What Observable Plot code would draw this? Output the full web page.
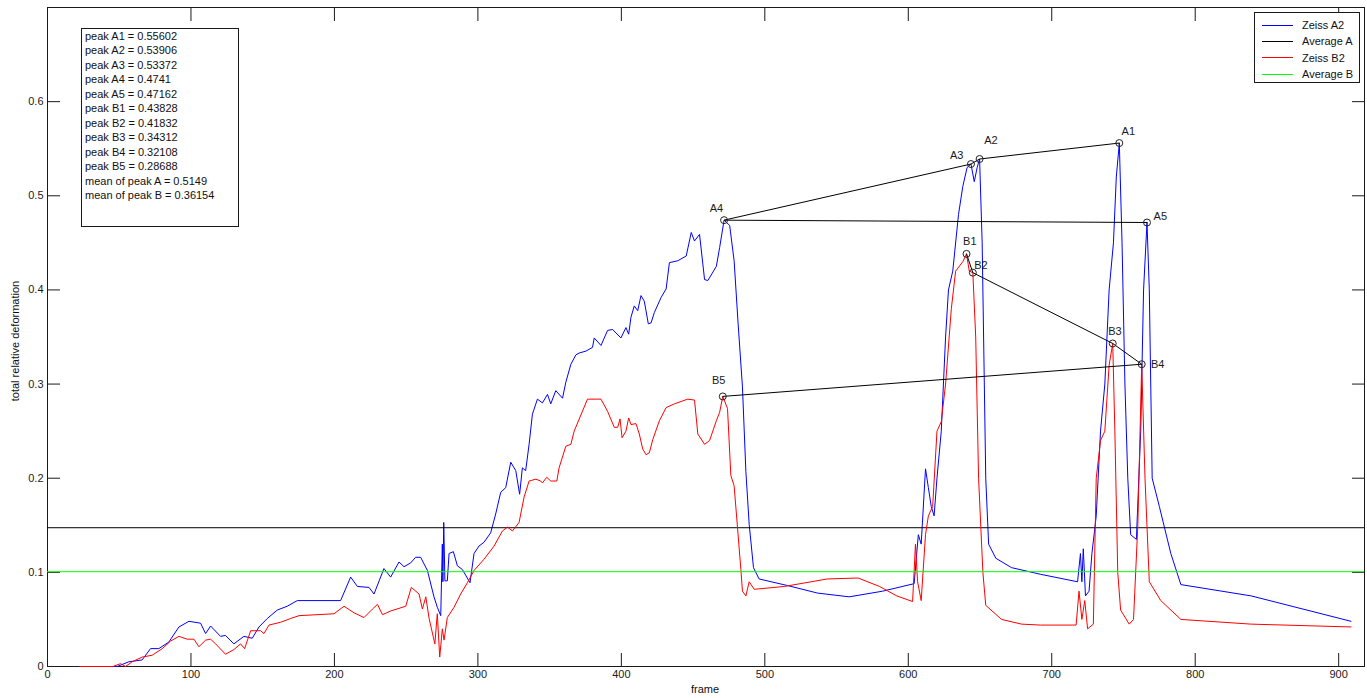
<!DOCTYPE html>
<html><head><meta charset="utf-8">
<script src="https://cdn.jsdelivr.net/npm/d3@7"></script>
<script src="https://cdn.jsdelivr.net/npm/@observablehq/plot@0.6"></script>
<style>
body{margin:0;background:#fff;font-family:"Liberation Sans",Arial,sans-serif;}
#wrap{position:relative;width:1367px;height:698px;overflow:hidden;}
.box{position:absolute;background:#fff;border:1px solid #1a1a1a;font-size:11px;color:#111;box-sizing:border-box;}
#info{left:81px;top:28px;width:158px;height:199px;padding:0 0 0 3px;line-height:14.45px;}
#legend{left:1254px;top:12px;width:106px;height:71px;padding-top:4px;}
.lrow{height:16.3px;display:flex;align-items:center;}
.lrow span.sw{display:inline-block;width:31px;height:0;border-top:1px solid;margin:0 9px 0 7px;}
.axlab{position:absolute;font-size:11px;color:#111;white-space:nowrap;}
</style></head><body><div id="wrap"></div><script>
// ---- data ----
const zeissA2 = [[22,0],[48.6,0],[56.7,0.005],[66,0.007],[71.8,0.019],[77.6,0.019],[84.6,0.026],[91.6,0.042],[98.6,0.048],[106.7,0.046],[110.2,0.035],[113.7,0.043],[120.6,0.032],[124.1,0.033],[129.9,0.024],[136.9,0.032],[142.7,0.030],[147.4,0.042],[153.2,0.051],[160.2,0.060],[167.1,0.064],[174.1,0.070],[204.3,0.070],[211.3,0.095],[216,0.085],[224.1,0.084],[227.6,0.077],[234.5,0.104],[239.2,0.095],[245,0.111],[248.5,0.106],[253.1,0.110],[256.6,0.116],[260.1,0.116],[264.8,0.102],[269.4,0.074],[271.7,0.063],[274.1,0.054],[275.2,0.130],[275.6,0.09],[276.2,0.153],[277,0.091],[278.7,0.091],[279.9,0.120],[282.9,0.122],[285.7,0.107],[289.2,0.103],[294.5,0.089],[297.3,0.120],[300.8,0.128],[304.3,0.132],[308.9,0.142],[312.4,0.162],[315.9,0.185],[319.4,0.190],[322.9,0.217],[326.4,0.208],[329.1,0.183],[331,0.211],[333.3,0.208],[335.7,0.236],[338,0.268],[341.5,0.284],[345,0.280],[348.5,0.289],[350.8,0.279],[354.3,0.293],[359,0.285],[361.3,0.302],[364.8,0.321],[368.3,0.331],[370.6,0.333],[375.3,0.335],[379.9,0.339],[381.1,0.349],[385.8,0.341],[390.4,0.357],[393.9,0.358],[399.7,0.349],[403.2,0.360],[405.1,0.353],[406.7,0.371],[409,0.383],[411.4,0.378],[413.7,0.394],[416,0.388],[418.8,0.364],[420.7,0.365],[423,0.376],[427.7,0.392],[431.2,0.401],[433.5,0.429],[439.3,0.431],[445.2,0.436],[448.7,0.461],[451,0.452],[454.5,0.459],[458,0.411],[460.3,0.410],[466.2,0.425],[468.5,0.445],[471.6,0.4741],[475.5,0.4685],[478.6,0.431],[481.4,0.364],[484.4,0.297],[486.8,0.207],[489.1,0.151],[492.1,0.105],[496,0.093],[515.8,0.086],[536.7,0.078],[558.8,0.074],[582.1,0.080],[604.1,0.088],[607,0.14],[609,0.13],[612,0.21],[614,0.19],[616,0.17],[618,0.16],[620,0.2],[623,0.25],[626,0.35],[628,0.40],[631,0.42],[635,0.48],[638,0.51],[641,0.53],[643.7,0.53372],[646,0.515],[648,0.53],[649.7,0.53906],[651.5,0.45],[653,0.3],[654,0.2],[656,0.13],[661,0.115],[672,0.105],[692,0.098],[718,0.09],[720,0.12],[721,0.09],[722,0.125],[723.5,0.075],[726,0.08],[728,0.12],[731,0.16],[734,0.25],[737,0.3],[740,0.4],[743,0.45],[745,0.52],[747.1,0.55602],[749,0.45],[751,0.3],[753,0.2],[755,0.14],[759,0.135],[762,0.25],[764,0.4],[766.4,0.47162],[768,0.4],[770,0.2],[775,0.17],[783,0.12],[790,0.087],[839,0.075],[908.6,0.048]];

const zeissB2 = [[22.5,0],[45.5,0],[50.9,0.003],[54.4,0],[59,0.005],[66,0.010],[73,0.012],[80,0.019],[85.8,0.027],[91.6,0.032],[97.4,0.029],[102.1,0.029],[105.5,0.021],[110.2,0.028],[113.7,0.029],[117.2,0.024],[124.1,0.013],[129.9,0.018],[134.6,0.024],[137.4,0.019],[141.6,0.038],[148.5,0.038],[150.9,0.035],[154.4,0.044],[162.5,0.047],[169.5,0.051],[175.3,0.054],[199.7,0.056],[206.7,0.064],[213.7,0.057],[220.6,0.052],[226.5,0.061],[230,0.066],[233.5,0.055],[239.2,0.059],[249.7,0.064],[253.6,0.084],[259,0.077],[261.3,0.061],[263.7,0.074],[266,0.051],[270,0.024],[271.7,0.056],[273.4,0.010],[275.2,0.040],[276.4,0.028],[278.7,0.052],[283.4,0.063],[288,0.077],[292.7,0.089],[297.3,0.102],[304.3,0.114],[311.3,0.128],[317.1,0.144],[320.6,0.148],[324.1,0.144],[328.7,0.153],[332.2,0.180],[335.7,0.197],[340.4,0.199],[343.8,0.197],[345,0.195],[348,0.201],[350.8,0.197],[355,0.197],[356.6,0.211],[361.3,0.234],[364.8,0.236],[367.1,0.250],[376.4,0.284],[385.8,0.284],[390.4,0.271],[395.1,0.254],[397.4,0.254],[399.1,0.263],[400.5,0.243],[403.2,0.250],[405.1,0.264],[406.7,0.257],[410.2,0.258],[412.5,0.247],[414.9,0.231],[417.2,0.225],[419.5,0.227],[421.9,0.241],[426.5,0.261],[431.2,0.275],[437,0.279],[446.3,0.284],[451,0.283],[453.3,0.247],[458,0.236],[461.5,0.240],[466.2,0.261],[468.5,0.270],[470.7,0.28688],[474,0.274],[476.3,0.203],[478.6,0.192],[481,0.147],[483.3,0.103],[484.4,0.080],[486.8,0.075],[489.1,0.090],[492.6,0.082],[513.5,0.085],[543.7,0.093],[565,0.094],[580,0.085],[592,0.075],[603,0.069],[605,0.13],[606.5,0.09],[609,0.07],[612,0.14],[614,0.16],[617,0.17],[620,0.25],[623,0.26],[626,0.3],[630,0.38],[633,0.42],[638,0.43],[640.6,0.43828],[642.5,0.42],[645,0.41832],[647,0.35],[649,0.2],[652,0.1],[654,0.065],[665,0.05],[679,0.045],[692,0.044],[717,0.044],[719,0.08],[721,0.05],[723,0.07],[725,0.04],[729,0.045],[731,0.2],[734,0.24],[737,0.25],[740,0.32],[742.5,0.34312],[744,0.25],[746,0.1],[748,0.06],[754,0.045],[757,0.05],[760,0.15],[762.7,0.32108],[765,0.2],[768,0.09],[776,0.07],[790,0.05],[839,0.045],[908.6,0.042]];

const averageA = 0.1474;
const averageB = 0.1007;

const peakNamesA = ["A1","A2","A3","A4","A5"];
const peakFramesA = [747.1, 649.7, 643.7, 471.6, 766.4];
const peakValuesA = [0.55602, 0.53906, 0.53372, 0.4741, 0.47162];
const peakLabelXA = [753.4, 657.6, 633.7, 466.3, 775.7];
const peakLabelYA = [0.5684, 0.5585, 0.5430, 0.4864, 0.4783];

const peakNamesB = ["B1","B2","B3","B4","B5"];
const peakFramesB = [640.6, 645.0, 742.5, 762.7, 470.7];
const peakValuesB = [0.43828, 0.41832, 0.34312, 0.32108, 0.28688];
const peakLabelXB = [642.9, 650.6, 744.1, 773.8, 467.9];
const peakLabelYB = [0.4517, 0.4260, 0.3556, 0.3203, 0.3033];

const xTicks = [0,100,200,300,400,500,600,700,800,900];
const yTicks = [0,0.1,0.2,0.3,0.4,0.5,0.6];
const yTickLabels = ["0","0.1","0.2","0.3","0.4","0.5","0.6"];

const infoLines = ["peak A1 = 0.55602","peak A2 = 0.53906","peak A3 = 0.53372","peak A4 = 0.4741","peak A5 = 0.47162","peak B1 = 0.43828","peak B2 = 0.41832","peak B3 = 0.34312","peak B4 = 0.32108","peak B5 = 0.28688","mean of peak A = 0.5149","mean of peak B = 0.36154"];
const legendNames = ["Zeiss A2","Average A","Zeiss B2","Average B"];
const legendColors = ["#0000ff","#000000","#ff0000","#00ff00"];

// ---- build ----
const toRows = arr => arr.map(([frame, value]) => ({frame, value}));
const peaksA = peakNamesA.map((n,i)=>({name:n, frame:peakFramesA[i], value:peakValuesA[i], lx:peakLabelXA[i], ly:peakLabelYA[i]}));
const peaksB = peakNamesB.map((n,i)=>({name:n, frame:peakFramesB[i], value:peakValuesB[i], lx:peakLabelXB[i], ly:peakLabelYB[i]}));

const ink = "#1a1a1a";
const chart = Plot.plot({
  width: 1367, height: 698,
  marginLeft: 47, marginRight: 3, marginTop: 7, marginBottom: 32,
  x: {domain: [0, 918]},
  y: {domain: [0, 0.7]},
  style: {fontFamily: '"Liberation Sans", Arial, sans-serif', fontSize: "11px", color: ink, background: "white"},
  marks: [
    Plot.frame({stroke: ink}),
    Plot.axisX({ticks: xTicks, tickSize: -13, tickPadding: 17, tickFormat: d => String(d), label: null}),
    Plot.axisX({anchor: "top", ticks: xTicks, tickSize: -13, tickFormat: () => "", label: null}),
    Plot.axisY({ticks: yTicks, tickSize: -13, tickPadding: 17, tickFormat: (d,i) => yTickLabels[i], label: null}),
    Plot.axisY({anchor: "right", ticks: yTicks, tickSize: -13, tickFormat: () => "", label: null}),
    Plot.line(toRows(zeissA2), {x: "frame", y: "value", stroke: "#0000ff", strokeWidth: 1}),
    Plot.ruleY([averageA], {stroke: "#000000", strokeWidth: 1}),
    Plot.line(toRows(zeissB2), {x: "frame", y: "value", stroke: "#ff0000", strokeWidth: 1}),
    Plot.ruleY([averageB], {stroke: "#00ff00", strokeWidth: 1}),
    Plot.line(peaksA, {x: "frame", y: "value", stroke: "#000", strokeWidth: 1}),
    Plot.dot(peaksA, {x: "frame", y: "value", r: 3.5, stroke: "#222", strokeWidth: 1, fill: "none"}),
    Plot.line(peaksB, {x: "frame", y: "value", stroke: "#000", strokeWidth: 1}),
    Plot.dot(peaksB, {x: "frame", y: "value", r: 3.5, stroke: "#222", strokeWidth: 1, fill: "none"}),
    Plot.text(peaksA, {x: "lx", y: "ly", text: "name", fill: ink, fontSize: 11}),
    Plot.text(peaksB, {x: "lx", y: "ly", text: "name", fill: ink, fontSize: 11})
  ]
});
const wrap = document.getElementById("wrap");
wrap.appendChild(chart);

const info = document.createElement("div");
info.className = "box"; info.id = "info";
info.innerHTML = infoLines.map(t => `<div>${t}</div>`).join("");
wrap.appendChild(info);

const legend = document.createElement("div");
legend.className = "box"; legend.id = "legend";
legend.innerHTML = legendNames.map((n,i) => `<div class="lrow"><span class="sw" style="border-color:${legendColors[i]}"></span>${n}</div>`).join("");
wrap.appendChild(legend);

const xl = document.createElement("div");
xl.className = "axlab"; xl.textContent = "frame";
xl.style.left = "705px"; xl.style.top = "683px"; xl.style.transform = "translateX(-50%)";
wrap.appendChild(xl);
const yl = document.createElement("div");
yl.className = "axlab"; yl.textContent = "total relative deformation";
yl.style.left = "15px"; yl.style.top = "341px"; yl.style.transform = "translate(-50%,-50%) rotate(-90deg)";
wrap.appendChild(yl);
</script></body></html>
